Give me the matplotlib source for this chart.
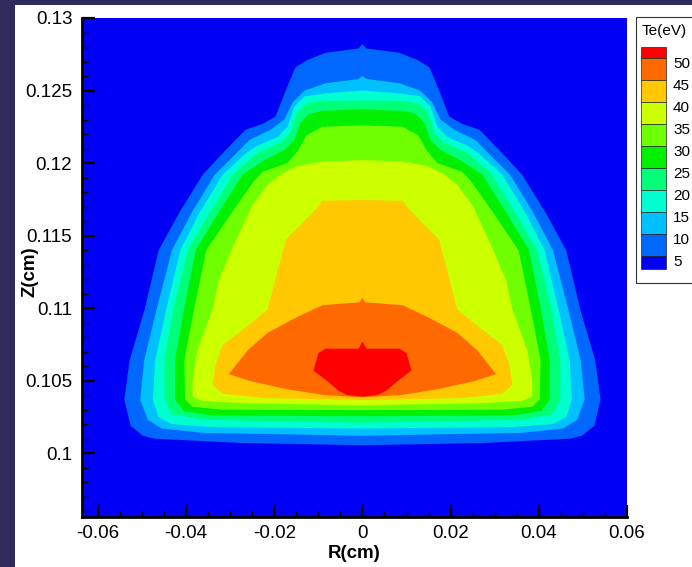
import numpy as np
import matplotlib
matplotlib.use("Agg")
import matplotlib.pyplot as plt
from matplotlib.patches import Rectangle
from matplotlib.ticker import MultipleLocator

plt.rcParams["font.family"] = ["Liberation Sans", "DejaVu Sans"]

# --- data: Te contour boundaries (right half, mirrored about R=0), units 1e-3 cm ---
levels = [5, 10, 15, 20, 25, 30, 35, 40, 45, 50]
band_colors = ["#0000f5", "#0068ff", "#00c0ff", "#00ffd0", "#00ff78", "#00f000",
               "#70ff00", "#ccff00", "#ffc800", "#ff6a00", "#ff0000"]

r05 = [0, 0.9, 8.4, 12.5, 15.2, 17.4, 19.7, 22.6, 26.5, 31.0, 36.2, 41.5, 46.2, 49.4, 52.8, 54.0, 52.6, 49.8, 47.1, 27.2, 0]
z05 = [128.2, 127.9, 127.6, 127.1, 126.6, 125.0, 123.2, 122.7, 122.3, 120.9, 119.2, 116.6, 114.0, 109.9, 106.4, 103.7, 101.9, 101.2, 101.0, 100.7, 100.55]
r10 = [0, 0.9, 8.4, 13.1, 15.8, 17.7, 20.8, 25.6, 29.0, 33.5, 38.7, 43.2, 46.7, 49.5, 50.4, 48.7, 45.5, 36.2, 0]
z10 = [126.0, 125.8, 125.5, 125.0, 124.2, 123.0, 122.3, 121.6, 120.55, 119.2, 116.6, 114.0, 109.9, 106.4, 103.7, 102.3, 101.7, 101.4, 101.2]
r15 = [0, 8.4, 13.1, 15.4, 17.0, 19.2, 23.8, 26.3, 31.7, 36.9, 41.3, 44.5, 47.0, 47.5, 46.3, 43.2, 34.0, 0]
z15 = [125.0, 124.8, 124.6, 123.9, 122.5, 121.8, 121.2, 120.7, 119.2, 116.6, 114.0, 109.9, 106.4, 103.7, 102.5, 102.0, 101.8, 101.7]
r20 = [0, 9.1, 12.7, 14.9, 16.3, 18.6, 23.8, 29.4, 34.6, 39.6, 42.9, 44.9, 44.9, 43.2, 36.2, 0]
z20 = [124.3, 124.3, 124.1, 123.45, 122.1, 121.4, 120.7, 119.2, 116.6, 114.0, 109.9, 106.4, 103.7, 102.7, 102.3, 102.1]
r25 = [0, 9.1, 12.0, 14.0, 15.4, 17.7, 22.2, 27.2, 32.6, 37.8, 40.5, 42.5, 42.5, 40.5, 34.0, 0]
z25 = [123.7, 123.6, 123.4, 122.8, 121.6, 120.9, 120.2, 119.2, 116.6, 114.0, 109.9, 106.4, 103.7, 102.9, 102.6, 102.55]
r30 = [0, 9.1, 12.7, 14.5, 17.0, 22.6, 24.5, 29.6, 35.4, 38.2, 40.4, 40.2, 38.5, 31.7, 0]
z30 = [122.6, 122.5, 121.9, 120.9, 120.0, 119.4, 118.8, 116.6, 114.0, 109.9, 106.4, 103.7, 103.2, 103.0, 102.97]
r35 = [0, 9.1, 14.7, 18.6, 21.5, 24.9, 29.4, 32.6, 34.0, 37.4, 38.5, 38.5, 36.2, 27.2, 0]
z35 = [120.2, 120.1, 119.8, 119.2, 118.5, 117.1, 114.2, 111.9, 109.9, 107.1, 105.0, 103.9, 103.6, 103.45, 103.3]
r40 = [0, 9.1, 10.6, 14.5, 17.4, 18.6, 21.5, 27.2, 31.7, 33.3, 34.0, 31.7, 22.6, 0]
z40 = [117.45, 117.4, 116.8, 115.6, 114.7, 113.3, 109.9, 108.5, 107.45, 106.1, 104.7, 104.1, 103.8, 103.66]
r45 = [0, 0.7, 9.1, 14.7, 21.5, 26.0, 30.3, 25.4, 17.0, 8.6, 0]
z45 = [110.7, 110.4, 110.2, 109.4, 108.3, 107.1, 105.45, 104.97, 104.4, 104.0, 103.86]
r50 = [0, 0.9, 8.4, 10.0, 11.1, 7.7, 5.4, 3.4, 0]
z50 = [107.7, 107.2, 107.2, 106.9, 105.7, 104.9, 104.3, 104.0, 103.9]

boundaries = [(r05, z05), (r10, z10), (r15, z15), (r20, z20), (r25, z25),
              (r30, z30), (r35, z35), (r40, z40), (r45, z45), (r50, z50)]

xticks = [-0.06, -0.04, -0.02, 0, 0.02, 0.04, 0.06]
xtick_labels = ["-0.06", "-0.04", "-0.02", "0", "0.02", "0.04", "0.06"]
yticks = [0.1, 0.105, 0.11, 0.115, 0.12, 0.125, 0.13]
ytick_labels = ["0.1", "0.105", "0.11", "0.115", "0.12", "0.125", "0.13"]

W, H = 692, 567
fig = plt.figure(figsize=(W / 100, H / 100), dpi=100)
fig.patch.set_facecolor("#2e2c5c")
fig.patches.append(Rectangle((15 / W, 0), 1, (H - 5) / H, transform=fig.transFigure,
                             facecolor="white", edgecolor="none", zorder=-10))

ax = fig.add_axes([82 / W, 1 - 517 / H, (627 - 82) / W, (517 - 18) / H])
ax.set_facecolor(band_colors[0])

for (r, z), color in zip(boundaries, band_colors[1:]):
    r = np.asarray(r) * 1e-3
    z = np.asarray(z) * 1e-3
    rr = np.concatenate([r, -r[::-1]])
    zz = np.concatenate([z, z[::-1]])
    ax.fill(rr, zz, color=color, lw=0, antialiased=True)

ax.set_xlim(-0.0636, 0.06)
ax.set_ylim(0.0956, 0.13)
ax.set_xticks(xticks)
ax.set_xticklabels(xtick_labels)
ax.set_yticks(yticks)
ax.set_yticklabels(ytick_labels)
ax.xaxis.set_minor_locator(MultipleLocator(0.005))
ax.yaxis.set_minor_locator(MultipleLocator(0.001))
ax.tick_params(which="major", direction="in", length=9, width=1.6, labelsize=13.5,
               top=False, right=False, pad=6)
ax.tick_params(which="minor", direction="in", length=4.5, width=1.0,
               top=False, right=False)
ax.tick_params(axis="y", which="major", pad=7)
for side in ("top", "right"):
    ax.spines[side].set_visible(False)
for side in ("left", "bottom"):
    ax.spines[side].set_linewidth(2)
ax.set_xlabel("R(cm)", fontsize=13.5, fontweight="bold", labelpad=2)
fig.text(30 / W, 1 - 272 / H, "Z(cm)", rotation=90, fontsize=13.5, fontweight="bold",
         ha="center", va="center")

# --- legend (Tecplot style) ---
def fx(x):
    return x / W

def fy(y):
    return 1 - y / H

fig.patches.append(Rectangle((fx(636), fy(283)), fx(80), (283 - 17) / H,
                             transform=fig.transFigure, facecolor="white",
                             edgecolor="#333333", lw=0.8))
fig.text(fx(642), fy(31), "Te(eV)", fontsize=11, ha="left", va="center")
edges = [47] + [58 + 22 * i for i in range(10)] + [269]
legend_colors = band_colors[::-1]
for i, c in enumerate(legend_colors):
    y0, y1 = edges[i], edges[i + 1]
    fig.patches.append(Rectangle((fx(641), fy(y1)), fx(25), (y1 - y0) / H,
                                 transform=fig.transFigure, facecolor=c,
                                 edgecolor="#222222", lw=0.5))
for i, lv in enumerate(levels[::-1]):
    fig.text(fx(673), fy(64 + 22 * i), str(lv), fontsize=11, ha="left", va="center")

fig.savefig("out.png", dpi=100, facecolor=fig.get_facecolor())
